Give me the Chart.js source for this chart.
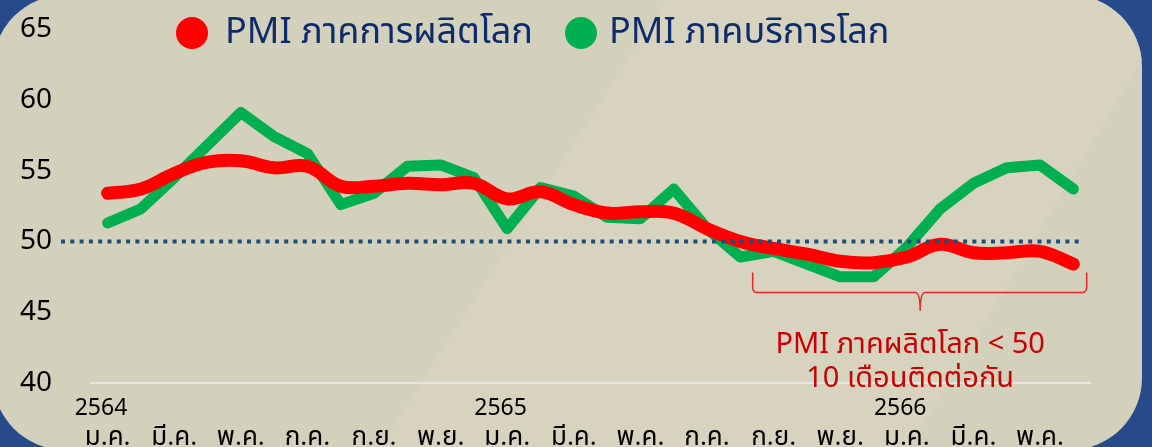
<!DOCTYPE html>
<html>
<head>
<meta charset="utf-8">
<script src="https://cdn.jsdelivr.net/npm/chart.js@4/dist/chart.umd.min.js"></script>
<style>
  body { margin: 0; background: #264a8a; }
  #wrap { width: 1152px; height: 447px; position: relative; }
</style>
</head>
<body>
<div id="wrap"><canvas id="pmi"></canvas></div>
<script>
var months = ['ม.ค.', 'ก.พ.', 'มี.ค.', 'เม.ย.', 'พ.ค.', 'มิ.ย.', 'ก.ค.', 'ส.ค.', 'ก.ย.', 'ต.ค.', 'พ.ย.', 'ธ.ค.',
              'ม.ค.', 'ก.พ.', 'มี.ค.', 'เม.ย.', 'พ.ค.', 'มิ.ย.', 'ก.ค.', 'ส.ค.', 'ก.ย.', 'ต.ค.', 'พ.ย.', 'ธ.ค.',
              'ม.ค.', 'ก.พ.', 'มี.ค.', 'เม.ย.', 'พ.ค.', 'มิ.ย.'];
var years = ['2564', '', '', '', '', '', '', '', '', '', '', '',
             '2565', '', '', '', '', '', '', '', '', '', '', '',
             '2566', '', '', '', '', ''];
var manufacturing = [53.4, 53.7, 54.8, 55.6, 55.7, 55.2, 55.3, 53.9, 53.9, 54.1, 54.0, 54.1,
                     53.0, 53.5, 52.6, 52.0, 52.1, 52.0, 50.9, 50.0, 49.5, 49.1, 48.6, 48.5,
                     48.9, 49.8, 49.2, 49.2, 49.3, 48.4];
var services = [51.3, 52.3, 54.5, 56.8, 59.1, 57.4, 56.2, 52.6, 53.4, 55.3, 55.4, 54.5,
                50.9, 53.8, 53.2, 51.7, 51.6, 53.7, 50.9, 48.9, 49.3, 48.4, 47.5, 47.5,
                49.6, 52.3, 54.1, 55.2, 55.4, 53.7];
var seriesNames = ['PMI ภาคการผลิตโลก', 'PMI ภาคบริการโลก'];
var noteLines = ['PMI ภาคผลิตโลก < 50', '10 เดือนติดต่อกัน'];
var yTicks = [40, 45, 50, 55, 60, 65];

var FONT = "'Noto Sans', 'Noto Sans Thai', Tahoma, sans-serif";

// slide background: blue frame, beige rounded panel, lighter diagonal band
var backdrop = {
    id: 'backdrop',
    beforeDraw: function (chart) {
        var c = chart.ctx;
        c.save();
        c.fillStyle = '#264a8a';
        c.fillRect(0, 0, chart.width, chart.height);
        c.beginPath();
        c.roundRect(-7, -5, 1149, 455, 72);
        c.fillStyle = '#d3d0bc';
        c.fill();
        c.clip();
        c.beginPath();
        c.moveTo(666, 0);
        c.lineTo(1178, 0);
        c.lineTo(910, 447);
        c.lineTo(380, 447);
        c.closePath();
        c.fillStyle = '#d8d3bf';
        c.fill();
        c.restore();
    }
};

// dotted 50 line, year row, legend, bracket note
var overlay = {
    id: 'overlay',
    afterDatasetsDraw: function (chart) {
        var c = chart.ctx;
        var x = chart.scales.x, y = chart.scales.y;
        var y50 = y.getPixelForValue(50);
        c.save();
        c.strokeStyle = '#1f4e79';
        c.lineWidth = 4;
        c.setLineDash([4, 5.3]);
        c.beginPath();
        c.moveTo(61, y50);
        c.lineTo(x.getPixelForValue(29.3), y50);
        c.stroke();
        c.setLineDash([]);

        // year labels above the month row
        c.fillStyle = '#000';
        c.font = '23px ' + FONT;
        c.textAlign = 'center';
        c.textBaseline = 'middle';
        years.forEach(function (yr, i) {
            if (yr) c.fillText(yr, x.getPixelForValue(i - 0.2), y.getPixelForValue(38.2));
        });

        // bracket under the months below 50
        var l = x.getPixelForValue(19.37), r = x.getPixelForValue(29.4), m = x.getPixelForValue(24.4);
        var top = y.getPixelForValue(47.8), mid = y.getPixelForValue(46.4), tip = y.getPixelForValue(45.1);
        c.strokeStyle = '#e8262b';
        c.lineWidth = 1.5;
        c.beginPath();
        c.moveTo(l, top);
        c.lineTo(l, mid - 5);
        c.quadraticCurveTo(l, mid, l + 5, mid);
        c.lineTo(m - 5, mid);
        c.quadraticCurveTo(m, mid, m, tip);
        c.moveTo(m, tip);
        c.quadraticCurveTo(m, mid, m + 5, mid);
        c.lineTo(r - 5, mid);
        c.quadraticCurveTo(r, mid, r, mid - 5);
        c.lineTo(r, top);
        c.stroke();

        c.fillStyle = '#c80000';
        c.font = '29px ' + FONT;
        c.textAlign = 'center';
        c.textBaseline = 'alphabetic';
        var tx = x.getPixelForValue(24.1);
        c.fillText(noteLines[0], tx, y.getPixelForValue(42.1));
        c.fillText(noteLines[1], tx, y.getPixelForValue(39.75));

        // legend
        var items = [{ cx: 192, tx: 225 }, { cx: 581, tx: 609 }];
        c.font = '36px ' + FONT;
        c.textAlign = 'left';
        c.textBaseline = 'middle';
        chart.data.datasets.forEach(function (ds, i) {
            c.fillStyle = ds.borderColor;
            c.beginPath();
            c.arc(items[i].cx, 33, 16, 0, Math.PI * 2);
            c.fill();
            c.fillStyle = '#0e2b6b';
            c.fillText(ds.label, items[i].tx, 33);
        });
        c.restore();
    }
};

new Chart(document.getElementById('pmi'), {
    type: 'line',
    data: {
        labels: months,
        datasets: [{
            label: seriesNames[0],
            data: manufacturing,
            borderColor: '#ff0000',
            borderWidth: 13,
            tension: 0.4,
            borderCapStyle: 'round',
            borderJoinStyle: 'round',
            pointRadius: 0
        }, {
            label: seriesNames[1],
            data: services,
            borderColor: '#00b050',
            borderWidth: 11,
            tension: 0,
            borderCapStyle: 'round',
            borderJoinStyle: 'round',
            pointRadius: 0
        }]
    },
    options: {
        responsive: true,
        maintainAspectRatio: false,
        animation: false,
        layout: { padding: { left: 20, right: 62, top: 29, bottom: 0 } },
        plugins: {
            legend: { display: false },
            tooltip: { enabled: false }
        },
        scales: {
            x: {
                offset: true,
                grid: { display: false, drawTicks: false },
                border: { display: true, color: '#e6e6e6', width: 2 },
                afterFit: function (s) { s.height = 64; },
                ticks: {
                    autoSkip: false,
                    maxRotation: 0,
                    padding: 39,
                    color: '#000',
                    font: { family: FONT, size: 26 },
                    callback: function (v, i) {
                        return i % 2 === 0 ? months[i] : '';
                    }
                }
            },
            y: {
                min: 40,
                max: 65,
                afterFit: function (s) { s.width = 71; },
                afterBuildTicks: function (s) { s.ticks = yTicks.map(function (v) { return { value: v }; }); },
                grid: { display: false, drawTicks: false },
                border: { display: false },
                ticks: {
                    crossAlign: 'far',
                    color: '#000',
                    font: { family: FONT, size: 28 }
                }
            }
        }
    },
    plugins: [backdrop, overlay]
});
</script>
</body>
</html>
